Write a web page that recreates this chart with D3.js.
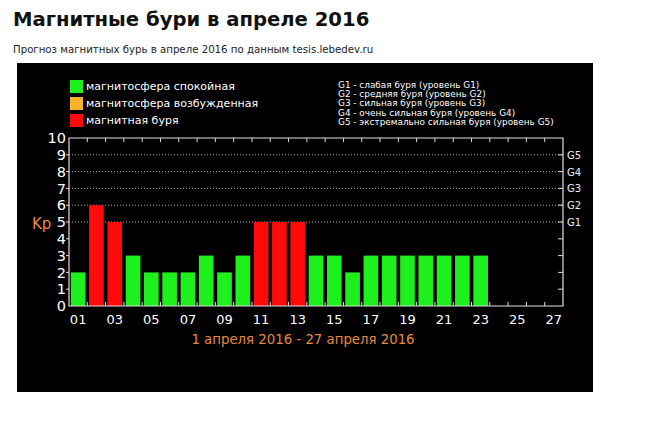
<!DOCTYPE html>
<html>
<head>
<meta charset="utf-8">
<script src="https://cdn.jsdelivr.net/npm/d3@7"></script>
<style>
  body { margin: 0; background: #fff; }
  text { font-family: "DejaVu Sans", Verdana, sans-serif; }
</style>
</head>
<body>
<div id="chart"></div>
<script>
// Kp forecast, April 2016 (days 24-27 have no data)
var days = d3.range(1, 28)
var kp = [2, 6, 5, 3, 2, 2, 2, 3, 2, 3, 5, 5, 5, 3, 3, 2, 3, 3, 3, 3, 3, 3, 3]
var yTicks = d3.range(0, 11)
var gLevels = [5, 6, 7, 8, 9]
var gLabels = ['G1', 'G2', 'G3', 'G4', 'G5']
var legendLeft = ['магнитосфера спокойная', 'магнитосфера возбужденная', 'магнитная буря']
var legendRight = [
  'G1 - слабая буря (уровень G1)',
  'G2 - средняя буря (уровень G2)',
  'G3 - сильная буря (уровень G3)',
  'G4 - очень сильная буря (уровень G4)',
  'G5 - экстремально сильная буря (уровень G5)'
]

var width = 659, height = 421
var plot = {left: 69, right: 563, top: 138, bottom: 306}
var green = '#1ef01e', orange = '#f7b329', red = '#ff0a0a'

var svg = d3.select('#chart')
  .append('svg')
  .attr('width', width)
  .attr('height', height)

// header
svg.append('text')
  .attr('x', 13)
  .attr('y', 26)
  .text('Магнитные бури в апреле 2016')
  .style('font-size', '19.6px')
  .style('font-weight', 'bold')
  .style('fill', '#111')

svg.append('text')
  .attr('x', 13)
  .attr('y', 53)
  .text('Прогноз магнитных бурь в апреле 2016 по данным tesis.lebedev.ru')
  .style('font-size', '10.2px')
  .style('fill', '#222')

// black panel
svg.append('rect')
  .attr('x', 17)
  .attr('y', 63)
  .attr('width', 576)
  .attr('height', 329)
  .style('fill', '#000')

// scales
var xScale = d3.scaleBand()
  .domain(days)
  .range([plot.left, plot.right])
  .paddingInner(0.2)
  .paddingOuter(0.1)

var step = xScale.step()

var yScale = d3.scaleLinear()
  .domain([0, 10])
  .range([plot.bottom, plot.top])

// dotted grid for G levels
svg.append('g')
  .selectAll('line')
  .data(gLevels)
  .enter()
  .append('line')
  .attr('x1', plot.left)
  .attr('x2', plot.right)
  .attr('y1', d => yScale(d))
  .attr('y2', d => yScale(d))
  .style('stroke', '#aaa')
  .style('stroke-dasharray', '1,2')

// bars
svg.append('g')
  .selectAll('rect')
  .data(kp)
  .enter()
  .append('rect')
  .attr('x', (d, i) => xScale(days[i]))
  .attr('y', d => yScale(d))
  .attr('width', xScale.bandwidth())
  .attr('height', d => yScale(0) - yScale(d))
  .style('fill', d => d >= 5 ? red : (d == 4 ? orange : green))

// frame
svg.append('path')
  .attr('d', `M${plot.left},${plot.top}H${plot.right}V${plot.bottom}H${plot.left}Z`)
  .style('fill', 'none')
  .style('stroke', '#ddd')
  .style('stroke-width', 1.2)

// day boundary ticks on top and bottom
var boundaries = days.slice(1).map(d => xScale(d) - step * xScale.paddingInner() / 2)
svg.append('g')
  .selectAll('line')
  .data(boundaries)
  .enter()
  .append('line')
  .attr('x1', d => d)
  .attr('x2', d => d)
  .attr('y1', plot.top)
  .attr('y2', plot.top + 4)
  .style('stroke', '#ddd')

svg.append('g')
  .selectAll('line')
  .data(boundaries)
  .enter()
  .append('line')
  .attr('x1', d => d)
  .attr('x2', d => d)
  .attr('y1', plot.bottom)
  .attr('y2', plot.bottom - 4)
  .style('stroke', '#ddd')

// right axis ticks
svg.append('g')
  .selectAll('line')
  .data(yTicks.slice(1, 10))
  .enter()
  .append('line')
  .attr('x1', plot.right - 5)
  .attr('x2', plot.right)
  .attr('y1', d => yScale(d))
  .attr('y2', d => yScale(d))
  .style('stroke', '#ddd')

// left axis ticks
svg.append('g')
  .selectAll('line')
  .data(yTicks.slice(1, 10))
  .enter()
  .append('line')
  .attr('x1', plot.left - 3)
  .attr('x2', plot.left)
  .attr('y1', d => yScale(d))
  .attr('y2', d => yScale(d))
  .style('stroke', '#ddd')

// y labels
svg.append('g')
  .selectAll('text')
  .data(yTicks)
  .enter()
  .append('text')
  .attr('x', 66)
  .attr('y', d => yScale(d) + 5.2)
  .text(d => d)
  .style('text-anchor', 'end')
  .style('font-size', '14.5px')
  .style('fill', '#fff')

svg.append('text')
  .attr('x', 32)
  .attr('y', 229)
  .text('Kp')
  .style('font-size', '15px')
  .style('fill', '#e8893e')

// G labels
svg.append('g')
  .selectAll('text')
  .data(gLevels)
  .enter()
  .append('text')
  .attr('x', 567)
  .attr('y', d => yScale(d) + 4)
  .text((d, i) => gLabels[i])
  .style('font-size', '10px')
  .style('fill', '#eee')

// x labels, odd days
svg.append('g')
  .selectAll('text')
  .data(days.filter(d => d % 2 == 1))
  .enter()
  .append('text')
  .attr('x', d => xScale(d) + xScale.bandwidth() / 2)
  .attr('y', 324)
  .text(d => d3.format('02')(d))
  .style('text-anchor', 'middle')
  .style('font-size', '13px')
  .style('fill', '#fff')

svg.append('text')
  .attr('x', 303)
  .attr('y', 344)
  .text('1 апреля 2016 - 27 апреля 2016')
  .style('text-anchor', 'middle')
  .style('font-size', '13.3px')
  .style('fill', '#e8893e')

// legend left
var legendColors = [green, orange, red]
var legL = svg.append('g')
legL.selectAll('rect')
  .data(legendLeft)
  .enter()
  .append('rect')
  .attr('x', 70)
  .attr('y', (d, i) => 80 + i * 17)
  .attr('width', 13)
  .attr('height', 13)
  .style('fill', (d, i) => legendColors[i])

legL.selectAll('text')
  .data(legendLeft)
  .enter()
  .append('text')
  .attr('x', 86)
  .attr('y', (d, i) => 90 + i * 17)
  .text(d => d)
  .style('font-size', '11px')
  .style('fill', '#fff')

// legend right
svg.append('g')
  .selectAll('text')
  .data(legendRight)
  .enter()
  .append('text')
  .attr('x', 338)
  .attr('y', (d, i) => 87.5 + i * 9.4)
  .text(d => d)
  .style('font-size', '8.9px')
  .style('fill', '#fff')
</script>
</body>
</html>
